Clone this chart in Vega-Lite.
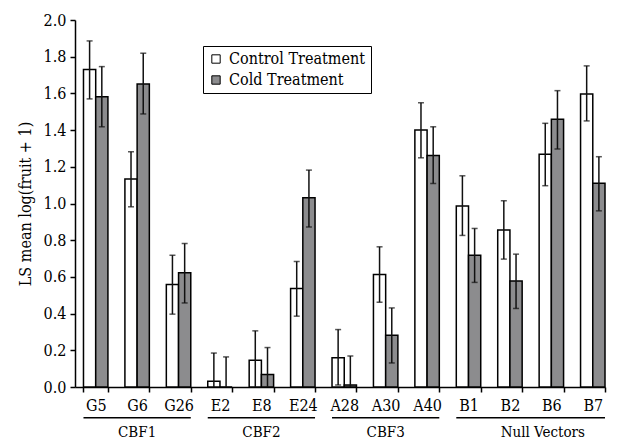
{
  "$schema": "https://vega.github.io/schema/vega-lite/v6.json",
  "width": 530,
  "height": 367,
  "padding": {"left": 17, "top": 12, "right": 2, "bottom": 0},
  "background": "white",
  "config": {
    "font": "DejaVu Serif Condensed",
    "view": {"stroke": null},
    "axis": {
      "labelFont": "DejaVu Serif Condensed",
      "titleFont": "DejaVu Serif Condensed",
      "labelFontSize": 16,
      "titleFontSize": 16,
      "labelColor": "black",
      "titleColor": "black",
      "titleFontWeight": "normal",
      "domainColor": "black",
      "tickColor": "black",
      "domainWidth": 1.5,
      "tickWidth": 1.5,
      "tickSize": 5,
      "grid": false,
      "labelOverlap": false
    },
    "legend": {
      "labelFont": "DejaVu Serif Condensed",
      "labelFontSize": 16,
      "labelColor": "black"
    }
  },
  "datasets": {
    "bars": [
      {"label": "G5", "treatment": "Control Treatment", "mean": 1.73, "lo": 1.57, "hi": 1.886},
      {"label": "G5", "treatment": "Cold Treatment", "mean": 1.582, "lo": 1.418, "hi": 1.746},
      {"label": "G6", "treatment": "Control Treatment", "mean": 1.133, "lo": 0.982, "hi": 1.282},
      {"label": "G6", "treatment": "Cold Treatment", "mean": 1.651, "lo": 1.488, "hi": 1.819},
      {"label": "G26", "treatment": "Control Treatment", "mean": 0.558, "lo": 0.397, "hi": 0.718},
      {"label": "G26", "treatment": "Cold Treatment", "mean": 0.622, "lo": 0.458, "hi": 0.782},
      {"label": "E2", "treatment": "Control Treatment", "mean": 0.031, "lo": 0.0, "hi": 0.185},
      {"label": "E2", "treatment": "Cold Treatment", "mean": 0.0, "lo": 0.0, "hi": 0.164},
      {"label": "E8", "treatment": "Control Treatment", "mean": 0.146, "lo": 0.0, "hi": 0.306},
      {"label": "E8", "treatment": "Cold Treatment", "mean": 0.068, "lo": 0.0, "hi": 0.215},
      {"label": "E24", "treatment": "Control Treatment", "mean": 0.537, "lo": 0.386, "hi": 0.684},
      {"label": "E24", "treatment": "Cold Treatment", "mean": 1.032, "lo": 0.872, "hi": 1.182},
      {"label": "A28", "treatment": "Control Treatment", "mean": 0.16, "lo": 0.011, "hi": 0.313},
      {"label": "A28", "treatment": "Cold Treatment", "mean": 0.011, "lo": 0.0, "hi": 0.169},
      {"label": "A30", "treatment": "Control Treatment", "mean": 0.613, "lo": 0.462, "hi": 0.764},
      {"label": "A30", "treatment": "Cold Treatment", "mean": 0.282, "lo": 0.131, "hi": 0.431},
      {"label": "A40", "treatment": "Control Treatment", "mean": 1.4, "lo": 1.249, "hi": 1.549},
      {"label": "A40", "treatment": "Cold Treatment", "mean": 1.262, "lo": 1.109, "hi": 1.418},
      {"label": "B1", "treatment": "Control Treatment", "mean": 0.987, "lo": 0.826, "hi": 1.151},
      {"label": "B1", "treatment": "Cold Treatment", "mean": 0.718, "lo": 0.57, "hi": 0.864},
      {"label": "B2", "treatment": "Control Treatment", "mean": 0.855, "lo": 0.697, "hi": 1.015},
      {"label": "B2", "treatment": "Cold Treatment", "mean": 0.577, "lo": 0.428, "hi": 0.724},
      {"label": "B6", "treatment": "Control Treatment", "mean": 1.268, "lo": 1.097, "hi": 1.437},
      {"label": "B6", "treatment": "Cold Treatment", "mean": 1.459, "lo": 1.297, "hi": 1.615},
      {"label": "B7", "treatment": "Control Treatment", "mean": 1.597, "lo": 1.45, "hi": 1.75},
      {"label": "B7", "treatment": "Cold Treatment", "mean": 1.11, "lo": 0.96, "hi": 1.255}
    ],
    "groups": [
      {"group": "CBF1", "label": "G5", "last": "G26", "mid": "G6"},
      {"group": "CBF2", "label": "E2", "last": "E24", "mid": "E8"},
      {"group": "CBF3", "label": "A28", "last": "A40", "mid": "A30"},
      {"group": "Null Vectors", "label": "B1", "last": "B7", "mid": "B6"}
    ]
  },
  "layer": [
    {
      "data": {"name": "bars"},
      "mark": {"type": "bar", "stroke": "black", "strokeWidth": 1.5},
      "encoding": {
        "x": {
          "field": "label", "type": "nominal",
          "scale": {"domain": ["G5","G6","G26","E2","E8","E24","A28","A30","A40","B1","B2","B6","B7"], "paddingInner": 0.41, "paddingOuter": 0.1024, "align": 1},
          "axis": {"title": null, "labelAngle": 0, "tickBand": "extent", "labelPadding": 5}
        },
        "xOffset": {
          "field": "treatment", "type": "nominal",
          "scale": {"domain": ["Control Treatment", "Cold Treatment"], "paddingInner": 0, "paddingOuter": 0}
        },
        "y": {
          "field": "mean", "type": "quantitative",
          "scale": {"domain": [0, 2], "nice": false},
          "axis": {"title": "LS mean log(fruit + 1)", "values": [0,0.2,0.4,0.6,0.8,1.0,1.2,1.4,1.6,1.8,2.0], "labelOverlap": false, "format": ".1f", "titlePadding": 10, "labelPadding": 4}
        },
        "fill": {
          "field": "treatment", "type": "nominal",
          "scale": {"domain": ["Control Treatment", "Cold Treatment"], "range": ["white", "#8c8c8e"]},
          "legend": {
            "title": null, "orient": "none", "legendX": 128, "legendY": 26,
            "symbolType": "square", "symbolSize": 70, "symbolStrokeColor": "black", "symbolStrokeWidth": 1,
            "strokeColor": "black", "padding": 5, "rowPadding": 5, "labelOffset": 5
          }
        }
      }
    },
    {
      "data": {"name": "bars"},
      "mark": {"type": "rule", "color": "#111", "strokeWidth": 1.5},
      "encoding": {
        "x": {"field": "label", "type": "nominal"},
        "xOffset": {"field": "treatment", "type": "nominal"},
        "y": {"field": "lo", "type": "quantitative", "axis": {"title": "LS mean log(fruit + 1)", "values": [0,0.2,0.4,0.6,0.8,1.0,1.2,1.4,1.6,1.8,2.0], "labelOverlap": false, "format": ".1f", "titlePadding": 10, "labelPadding": 4}},
        "y2": {"field": "hi"}
      }
    },
    {
      "data": {"name": "bars"},
      "mark": {"type": "tick", "color": "#111", "size": 6, "thickness": 1.5, "orient": "horizontal"},
      "encoding": {
        "x": {"field": "label", "type": "nominal"},
        "xOffset": {"field": "treatment", "type": "nominal"},
        "y": {"field": "hi", "type": "quantitative", "axis": {"title": "LS mean log(fruit + 1)", "values": [0,0.2,0.4,0.6,0.8,1.0,1.2,1.4,1.6,1.8,2.0], "labelOverlap": false, "format": ".1f", "titlePadding": 10, "labelPadding": 4}}
      }
    },
    {
      "data": {"name": "bars"},
      "transform": [{"filter": "datum.lo > 0"}],
      "mark": {"type": "tick", "color": "#111", "size": 6, "thickness": 1.5, "orient": "horizontal"},
      "encoding": {
        "x": {"field": "label", "type": "nominal"},
        "xOffset": {"field": "treatment", "type": "nominal"},
        "y": {"field": "lo", "type": "quantitative", "axis": {"title": "LS mean log(fruit + 1)", "values": [0,0.2,0.4,0.6,0.8,1.0,1.2,1.4,1.6,1.8,2.0], "labelOverlap": false, "format": ".1f", "titlePadding": 10, "labelPadding": 4}}
      }
    },
    {
      "data": {"name": "groups"},
      "mark": {"type": "rule", "color": "black", "strokeWidth": 1.5},
      "encoding": {
        "x": {"field": "label", "type": "nominal", "bandPosition": 0},
        "x2": {"field": "last", "bandPosition": 1},
        "y": {"datum": -0.168, "type": "quantitative", "axis": {"title": "LS mean log(fruit + 1)", "values": [0,0.2,0.4,0.6,0.8,1.0,1.2,1.4,1.6,1.8,2.0], "labelOverlap": false, "format": ".1f", "titlePadding": 10, "labelPadding": 4}}
      }
    },
    {
      "data": {"name": "groups"},
      "transform": [{"filter": "datum.group !== 'Null Vectors'"}],
      "mark": {"type": "text", "fontSize": 15, "baseline": "alphabetic", "color": "black", "font": "DejaVu Serif Condensed"},
      "encoding": {
        "x": {"field": "mid", "type": "nominal", "bandPosition": 0.5},
        "y": {"datum": -0.27, "type": "quantitative", "axis": {"title": "LS mean log(fruit + 1)", "values": [0,0.2,0.4,0.6,0.8,1.0,1.2,1.4,1.6,1.8,2.0], "labelOverlap": false, "format": ".1f", "titlePadding": 10, "labelPadding": 4}},
        "text": {"field": "group"}
      }
    },
    {
      "data": {"name": "groups"},
      "transform": [{"filter": "datum.group === 'Null Vectors'"}],
      "mark": {"type": "text", "fontSize": 15, "baseline": "alphabetic", "color": "black", "font": "DejaVu Serif Condensed"},
      "encoding": {
        "x": {"field": "mid", "type": "nominal", "bandPosition": 0.15},
        "y": {"datum": -0.27, "type": "quantitative", "axis": {"title": "LS mean log(fruit + 1)", "values": [0,0.2,0.4,0.6,0.8,1.0,1.2,1.4,1.6,1.8,2.0], "labelOverlap": false, "format": ".1f", "titlePadding": 10, "labelPadding": 4}},
        "text": {"field": "group"}
      }
    }
  ]
}
